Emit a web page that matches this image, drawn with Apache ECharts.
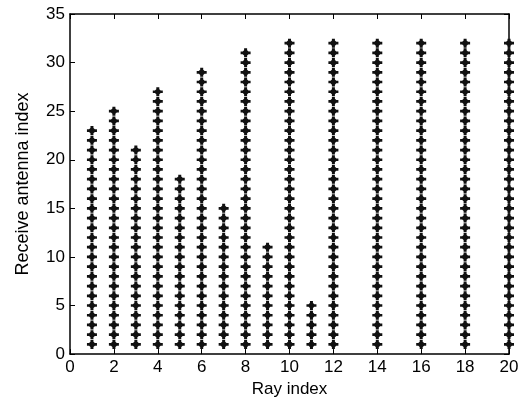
<!DOCTYPE html>
<html>
    <head>
        <meta charset="utf-8">
        <script src="https://cdn.jsdelivr.net/npm/echarts@6/dist/echarts.min.js"></script>
        <style>
            html, body { margin: 0; padding: 0; background: #fff; }
        </style>
    </head>
    <body>
        <div id="main" style="width: 522px;height:403px;"></div>
        <script type="text/javascript">
            // ray index -> highest receive antenna index in that column (points run 1..top)
            var rayIndex = [1, 2, 3, 4, 5, 6, 7, 8, 9, 10, 11, 12, 14, 16, 18, 20];
            var topAntenna = [23, 25, 21, 27, 18, 29, 15, 31, 11, 32, 5, 32, 32, 32, 32, 32];
            var xTicks = [0, 2, 4, 6, 8, 10, 12, 14, 16, 18, 20];
            var yTicks = [0, 5, 10, 15, 20, 25, 30, 35];

            var points = [];
            for (var i = 0; i < rayIndex.length; i++) {
                for (var a = 1; a <= topAntenna[i]; a++) {
                    points.push([rayIndex[i], a]);
                }
            }

            // plus + diamond marker (one outline), like matlab's
            var marker = 'path://M-1.5,-5 L1.5,-5 L1.5,-2.9 L2.9,-1.5 L5,-1.5 L5,1.5 L2.9,1.5 L1.5,2.9 L1.5,5 L-1.5,5 L-1.5,2.9 L-2.9,1.5 L-5,1.5 L-5,-1.5 L-2.9,-1.5 L-1.5,-2.9 Z';

            var font = 'Liberation Sans, Arial, sans-serif';
            var line = { show: true, onZero: false, lineStyle: { color: '#000', width: 1.5 } };
            var tick = { show: true, inside: true, length: 5, lineStyle: { color: '#000', width: 1 } };

            var myChart = echarts.init(document.getElementById('main'));
            var option = {
                animation: false,
                backgroundColor: '#fff',
                grid: { left: 70, right: 13, top: 14, bottom: 46, containLabel: false },
                xAxis: [{
                    type: 'value', min: 0, max: 20, interval: 2, position: 'bottom',
                    name: 'Ray index', nameLocation: 'middle', nameGap: 25,
                    nameTextStyle: { color: '#000', fontSize: 17, fontFamily: font },
                    axisLine: line, axisTick: tick,
                    axisLabel: { color: '#000', fontSize: 17, fontFamily: font, margin: 5,
                        formatter: function (v) { return xTicks.indexOf(v) >= 0 ? String(v) : ''; } },
                    splitLine: { show: false }
                }, {
                    type: 'value', min: 0, max: 20, interval: 2, position: 'top',
                    axisLine: line, axisTick: tick, axisLabel: { show: false }, splitLine: { show: false }
                }],
                yAxis: [{
                    type: 'value', min: 0, max: 35, interval: 5, position: 'left',
                    name: 'Receive antenna index', nameLocation: 'middle', nameGap: 38,
                    nameTextStyle: { color: '#000', fontSize: 18, fontFamily: font },
                    axisLine: line, axisTick: tick,
                    axisLabel: { color: '#000', fontSize: 17, fontFamily: font, margin: 5,
                        formatter: function (v) { return yTicks.indexOf(v) >= 0 ? String(v) : ''; } },
                    splitLine: { show: false }
                }, {
                    type: 'value', min: 0, max: 35, interval: 5, position: 'right',
                    axisLine: line, axisTick: tick, axisLabel: { show: false }, splitLine: { show: false }
                }],
                series: [{
                    type: 'scatter',
                    data: points,
                    symbol: marker,
                    symbolSize: [10, 9],
                    itemStyle: { color: '#111', opacity: 1 },
                    emphasis: { disabled: true }
                }]
            };
            myChart.setOption(option);
        </script>
    </body>
</html>
